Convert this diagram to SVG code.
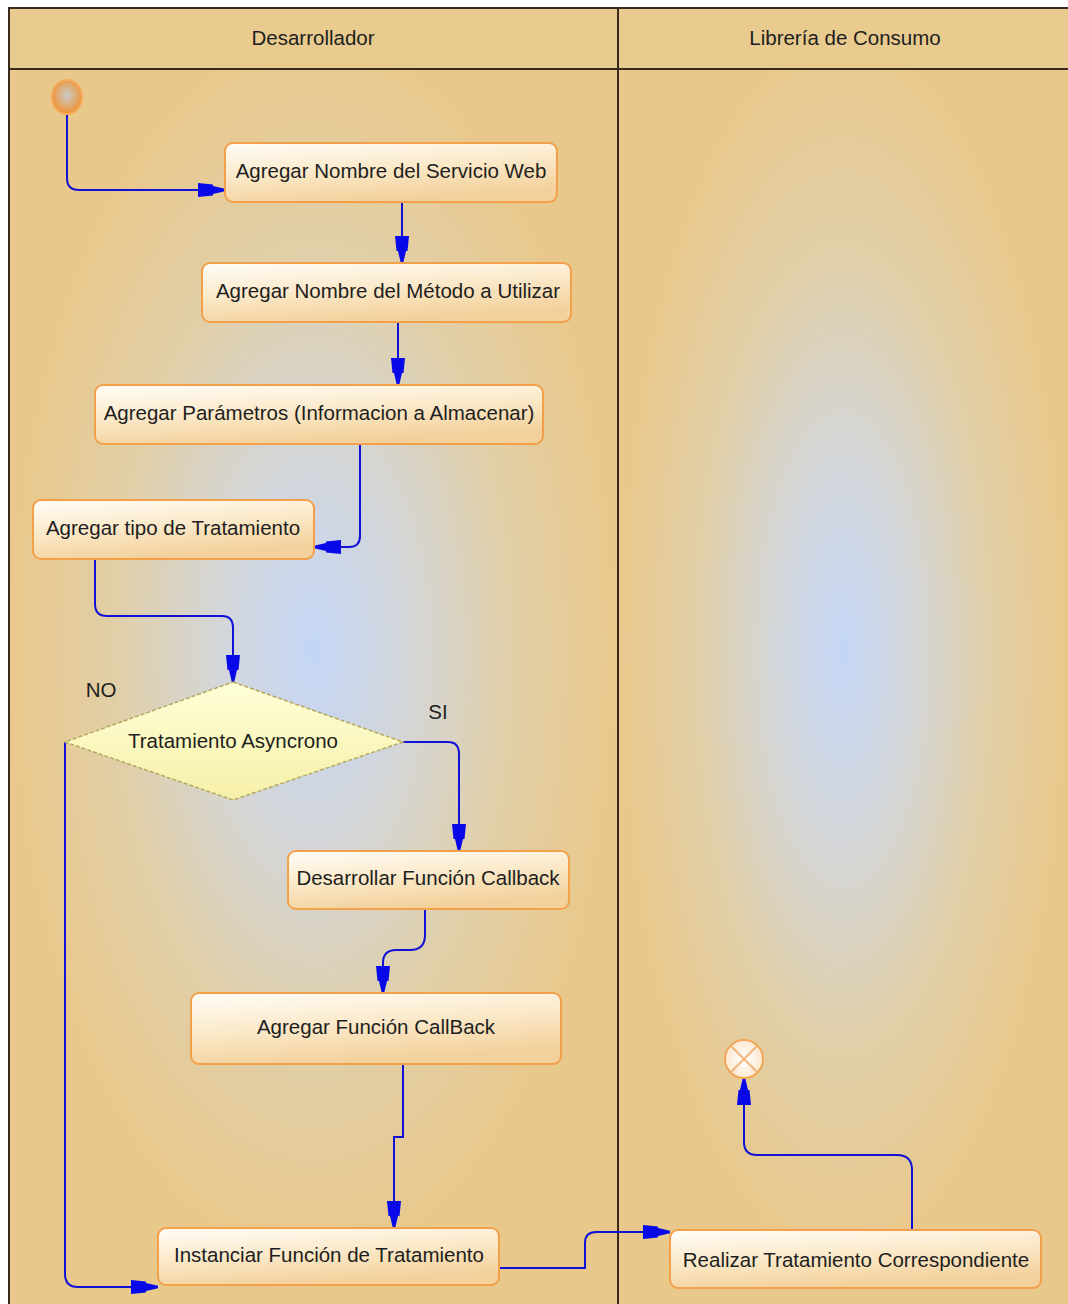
<svg xmlns="http://www.w3.org/2000/svg" width="1068" height="1304" viewBox="0 0 1068 1304">
  <defs>
    <radialGradient id="laneGlow" cx="0.5" cy="0.47" r="0.5">
      <stop offset="0" stop-color="#C4D6F6"/>
      <stop offset="0.3" stop-color="#D3D6DA"/>
      <stop offset="0.65" stop-color="#E1CFA8"/>
      <stop offset="1" stop-color="#E9C88B"/>
    </radialGradient>
    <linearGradient id="actFill" x1="0" y1="0" x2="0.35" y2="1">
      <stop offset="0" stop-color="#FFFDF8"/>
      <stop offset="0.5" stop-color="#FBEACB"/>
      <stop offset="1" stop-color="#F3D19C"/>
    </linearGradient>
    <linearGradient id="decFill" x1="0" y1="0" x2="0" y2="1">
      <stop offset="0" stop-color="#FFFFD8"/>
      <stop offset="1" stop-color="#F6F0A8"/>
    </linearGradient>
    <radialGradient id="startFill" cx="0.5" cy="0.45" r="0.55">
      <stop offset="0" stop-color="#C9C9C9"/>
      <stop offset="0.4" stop-color="#D9B68C"/>
      <stop offset="1" stop-color="#F0902E"/>
    </radialGradient>
    <radialGradient id="endFill" cx="0.5" cy="0.5" r="0.5">
      <stop offset="0" stop-color="#FFFFFF"/>
      <stop offset="1" stop-color="#FCE9D0"/>
    </radialGradient>
    <marker id="arrow" markerUnits="userSpaceOnUse" markerWidth="30" markerHeight="16" viewBox="0 -8 28 16" refX="27" refY="0" orient="auto">
      <path d="M0,-7 L15,-5.5 L15,-4 L27,-1.2 L27,1.2 L15,4 L15,5.5 L0,7 Z" fill="#0808E8"/>
    </marker>
    <style>
      .lane { stroke: none; }
      .border { stroke: #3A2A1E; stroke-width: 2; fill: none; }
      .head { fill: #E9CB8F; }
      .act { fill: url(#actFill); stroke: #F2A04A; stroke-width: 2; }
      .dec { fill: url(#decFill); stroke: #B5A860; stroke-width: 1.5; stroke-dasharray: 4 2; }
      .lbl { font-family: "Liberation Sans", Arial, sans-serif; font-size: 20.5px; fill: #1E1E1E; text-anchor: middle; }
      .conn { fill: none; stroke: #1212D6; stroke-width: 2; marker-end: url(#arrow); }
    </style>
  </defs>

  <!-- page -->
  <rect x="0" y="0" width="1068" height="1304" fill="#FFFFFF"/>

  <!-- swimlanes -->
  <g id="lanes">
    <rect class="lane" x="9" y="69" width="609" height="1235" fill="url(#laneGlow)"/>
    <rect class="lane" x="618" y="69" width="450" height="1235" fill="url(#laneGlow)"/>
    <rect class="head" x="9" y="8" width="1059" height="61"/>
    <path class="border" d="M1068,8 H9 V1304 M9,69 H1068 M618,8 V1304"/>
    <text class="lbl" x="313" y="45">Desarrollador</text>
    <text class="lbl" x="845" y="45">Librería de Consumo</text>
  </g>

  <!-- connectors -->
  <g id="connectors">
    <path class="conn" d="M67,114 V178 Q67,190 79,190 H225"/>
    <path class="conn" d="M402,202 V263"/>
    <path class="conn" d="M398,322 V385"/>
    <path class="conn" d="M360,444 V536 Q360,547 349,547 H314"/>
    <path class="conn" d="M95,559 V604 Q95,616 107,616 H222 Q233,616 233,628 V682"/>
    <path class="conn" d="M403,742 H448 Q459,742 459,754 V851"/>
    <path class="conn" d="M425,909 V935 Q425,950 410,950 H396 Q383,950 383,963 V993"/>
    <path class="conn" d="M403,1064 V1137 H394 V1228"/>
    <path class="conn" d="M65,742 V1274 Q65,1287 78,1287 H158"/>
    <path class="conn" d="M499,1268 H585 V1243 Q585,1232 596,1232 H670"/>
    <path class="conn" d="M912,1230 V1170 Q912,1155 897,1155 H757 Q744,1155 744,1142 V1078"/>
    <text class="lbl" x="101" y="697">NO</text>
    <text class="lbl" x="438" y="719">SI</text>
  </g>

  <!-- nodes -->
  <g id="start">
    <ellipse cx="67" cy="97" rx="15" ry="17" fill="url(#startFill)" stroke="#F5A95A" stroke-width="2"/>
  </g>
  <g id="n-servicio">
    <rect class="act" x="225" y="143" width="332" height="59" rx="8"/>
    <text class="lbl" x="391" y="178">Agregar Nombre del Servicio Web</text>
  </g>
  <g id="n-metodo">
    <rect class="act" x="202" y="263" width="369" height="59" rx="8"/>
    <text class="lbl" x="388" y="298">Agregar Nombre del Método a Utilizar</text>
  </g>
  <g id="n-parametros">
    <rect class="act" x="95" y="385" width="448" height="59" rx="8"/>
    <text class="lbl" x="319" y="420">Agregar Parámetros (Informacion a Almacenar)</text>
  </g>
  <g id="n-tipo">
    <rect class="act" x="33" y="500" width="281" height="59" rx="8"/>
    <text class="lbl" x="173" y="535">Agregar tipo de Tratamiento</text>
  </g>
  <g id="d-asincrono">
    <polygon class="dec" points="233,682 403,742 233,800 65,742"/>
    <text class="lbl" x="233" y="748">Tratamiento Asyncrono</text>
  </g>
  <g id="n-desarrollar">
    <rect class="act" x="288" y="851" width="281" height="58" rx="8"/>
    <text class="lbl" x="428" y="885">Desarrollar Función Callback</text>
  </g>
  <g id="n-agregar-callback">
    <rect class="act" x="191" y="993" width="370" height="71" rx="8"/>
    <text class="lbl" x="376" y="1034">Agregar Función CallBack</text>
  </g>
  <g id="n-instanciar">
    <rect class="act" x="158" y="1228" width="341" height="57" rx="8"/>
    <text class="lbl" x="329" y="1262">Instanciar Función de Tratamiento</text>
  </g>
  <g id="n-realizar">
    <rect class="act" x="670" y="1230" width="371" height="58" rx="8"/>
    <text class="lbl" x="856" y="1267">Realizar Tratamiento Correspondiente</text>
  </g>
  <g id="end">
    <circle cx="744" cy="1059" r="19" fill="url(#endFill)" stroke="#F0A656" stroke-width="2"/>
    <path d="M731,1046 L757,1072 M757,1046 L731,1072" stroke="#F2B57A" stroke-width="2"/>
  </g>
</svg>
